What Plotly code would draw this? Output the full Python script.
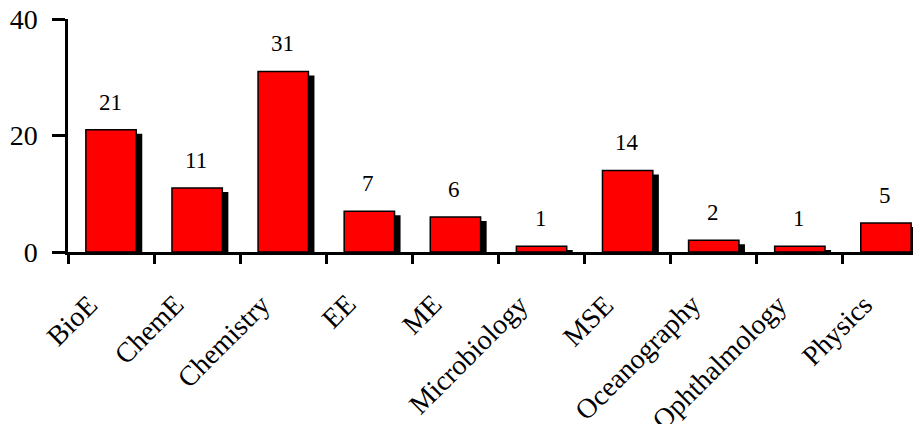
import plotly.graph_objects as go

categories = ["BioE", "ChemE", "Chemistry", "EE", "ME", "Microbiology", "MSE",
              "Oceanography", "Ophthalmology", "Physics"]
counts = [21, 11, 31, 7, 6, 1, 14, 2, 1, 5]
y_ticks = [0, 20, 40]

FONT = "Liberation Serif, Times New Roman, serif"
BAR_W = 0.585
SHADOW_DX = 0.07
SHADOW_DY = 0.69

fig = go.Figure()
fig.add_trace(go.Bar(
    x=categories, y=[max(v - SHADOW_DY, 0) for v in counts],
    width=BAR_W, offset=-BAR_W / 2 + SHADOW_DX,
    marker=dict(color="black", line=dict(width=0)),
    hoverinfo="skip", showlegend=False,
))
fig.add_trace(go.Bar(
    x=categories, y=counts,
    width=BAR_W, offset=-BAR_W / 2,
    marker=dict(color="#ff0000", line=dict(color="black", width=1.5)),
    showlegend=False,
))
for c, v in zip(categories, counts):
    fig.add_annotation(x=c, y=v, text=str(v), showarrow=False,
                       yanchor="bottom", yshift=13, xshift=-1,
                       font=dict(family=FONT, size=23, color="black"))
# rotated category labels
for c in categories:
    fig.add_annotation(x=c, y=0, yref="y", text=c, showarrow=False,
                       textangle=-45, xanchor="right", yanchor="top",
                       xshift=-5, yshift=-34,
                       font=dict(family=FONT, size=28, color="black"))

fig.update_layout(
    width=921, height=424,
    margin=dict(l=60, r=0, t=11, b=180),
    barmode="overlay",
    plot_bgcolor="white", paper_bgcolor="white",
    font=dict(family=FONT, color="black"),
    xaxis=dict(
        type="category", range=[-0.5, 9.5], autorange=False,
        tickson="boundaries", showticklabels=False,
        ticks="outside", ticklen=9, tickwidth=2.5, tickcolor="black",
        showline=True, linecolor="black", linewidth=2.5,
        showgrid=False, automargin=False,
    ),
    yaxis=dict(
        range=[0, 40], autorange=False, tickvals=y_ticks,
        ticks="outside", ticklen=13, tickwidth=2.5, tickcolor="black",
        showline=True, linecolor="black", linewidth=2.5,
        showgrid=False, zeroline=False, ticklabeloverflow="allow",
        tickfont=dict(family=FONT, size=28, color="black"),
        ticklabelstandoff=9, automargin=False,
    ),
)
fig.write_html("out.html")
